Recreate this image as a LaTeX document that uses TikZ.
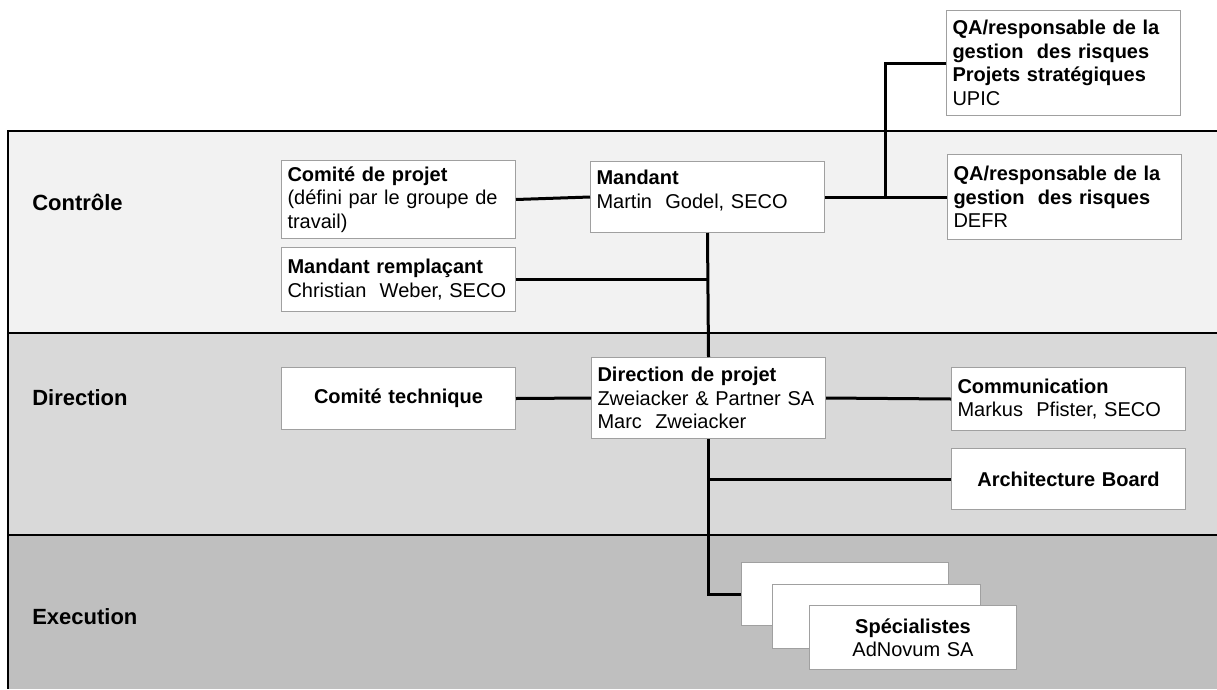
\documentclass[tikz,border=0pt]{standalone}
\usepackage{fontspec}
\setmainfont{Liberation Sans}
\definecolor{boxgray}{HTML}{A0A0A0}
\definecolor{ctrlfill}{HTML}{F2F2F2}
\definecolor{dirfill}{HTML}{D9D9D9}
\definecolor{execfill}{HTML}{BFBFBF}
\begin{document}
\begin{tikzpicture}
	[x=0.75pt,y=-0.75pt,
	 orgbox/.style={draw=boxgray,fill=white,line width=0.75pt,anchor=north west,inner xsep=4.5pt,inner ysep=2pt,font=\fontsize{15}{17.6}\selectfont},
	 widebox/.style={orgbox,minimum width=175.5pt,text width=166.5pt,align=left},
	 smallbox/.style={orgbox,minimum width=155.25pt,text width=146.25pt,align=center},
	 band/.style={black,line width=1pt},
	 bandlabel/.style={anchor=west,inner sep=0pt,font=\fontsize{16.5}{19}\selectfont\bfseries},
	 link/.style={black,line width=2.25pt}]
    \useasboundingbox (0,0) rectangle (1217,689);
    % bands
    \fill[ctrlfill] (8,131) rectangle (1217,333);
    \fill[dirfill]  (8,333) rectangle (1217,535);
    \fill[execfill] (8,535) rectangle (1217,689);
    \draw[band] (1217,131) -- (8,131) -- (8,689);
    \draw[band] (8,333) -- (1217,333);
    \draw[band] (8,535) -- (1217,535);
    \node[bandlabel] at (32,202) (lctrl) {Contrôle};
    \node[bandlabel] at (32,398) (ldir)  {Direction};
    \node[bandlabel] at (32,617) (lexec) {Execution};
    % controle
    \node[widebox,minimum height=58.5pt] at (281,160) (comite)
        {\textbf{Comité de projet}\\(défini par le groupe de\\travail)};
    \node[widebox,minimum height=48pt] at (281,247) (remplacant)
        {\textbf{Mandant remplaçant}\\Christian~ Weber, SECO};
    \node[widebox,minimum height=53.25pt,minimum width=174.75pt,text depth=29pt] at (590,161) (mandant)
        {\textbf{Mandant}\\Martin~ Godel, SECO};
    \node[widebox,minimum height=78.75pt,minimum width=174.75pt] at (946,10) (qaupic)
        {\textbf{QA/responsable de la}\\\textbf{gestion~ des risques}\\\textbf{Projets stratégiques}\\UPIC};
    \node[widebox,minimum height=63.75pt,minimum width=174.75pt] at (947,154) (qadefr)
        {\textbf{QA/responsable de la}\\\textbf{gestion~ des risques}\\DEFR};
    % direction
    \node[widebox,align=center,minimum height=46.5pt] at (281,367) (technique)
        {\textbf{Comité technique}};
    \node[widebox,minimum height=60.75pt,minimum width=174.75pt] at (591,357) (direction)
        {\textbf{Direction de projet}\\Zweiacker \& Partner SA\\Marc~ Zweiacker};
    \node[widebox,minimum height=47.25pt,minimum width=174.75pt] at (951,367) (communication)
        {\textbf{Communication}\\Markus~ Pfister, SECO};
    \node[widebox,align=center,minimum height=45.75pt,minimum width=174.75pt] at (951,448) (archboard)
        {\textbf{Architecture Board}};
    % execution
    \node[smallbox,minimum height=47.25pt] at (741,562) (spec1) {};
    \node[smallbox,minimum height=48pt,minimum width=156pt] at (772,584) (spec2) {};
    \node[smallbox,minimum height=48pt] at (809,605) (spec3)
        {\textbf{Spécialistes}\\AdNovum SA};
    % links
    \coordinate (qajoin) at (885,196);
    \draw[link] (comite.east) -- (mandant.west);
    \draw[link] (mandant.east) -- (qadefr.west);
    \draw[link] (qaupic.west) -| (qajoin);
    \draw[link] (mandant.south) -- (direction.north);
    \draw[link] (remplacant.east) -- (remplacant.east -| mandant.south);
    \draw[link] (technique.east) -- (direction.west);
    \draw[link] (direction.east) -- (communication.west);
    \draw[link] (archboard.west) -- (archboard.west -| direction.south);
    \draw[link] (direction.south) |- (spec1.west);
\end{tikzpicture}
\end{document}
